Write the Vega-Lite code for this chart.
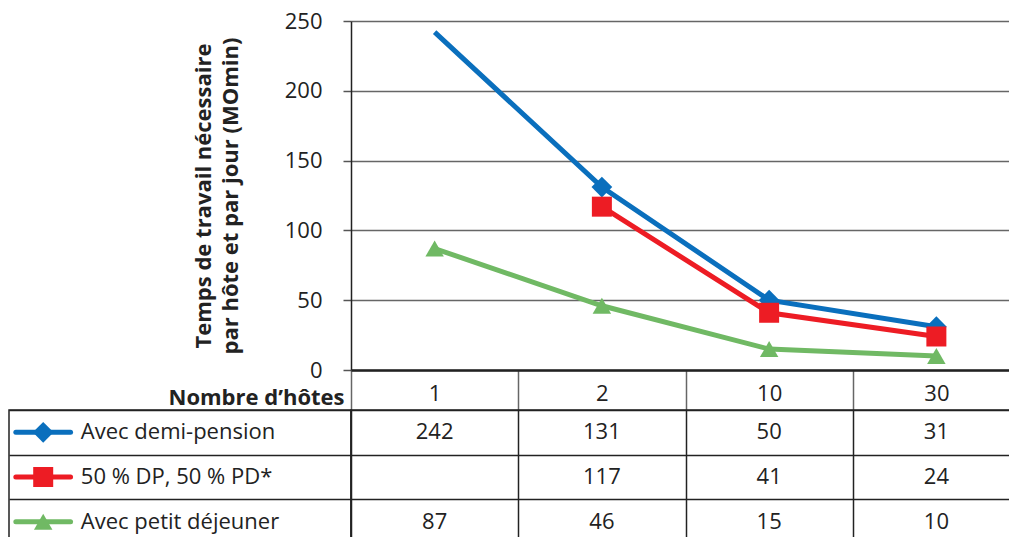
{
  "$schema": "https://vega.github.io/schema/vega-lite/v6.json",
  "padding": {"left": 8, "top": 10, "right": 0, "bottom": 0},
  "config": {
    "view": {"stroke": null},
    "font": "Open Sans",
    "axis": {"labelFont": "Open Sans", "titleFont": "Open Sans"}
  },
  "datasets": {
    "pts": [
      {"series": "Avec demi-pension", "hosts": "1", "value": 242},
      {"series": "Avec demi-pension", "hosts": "2", "value": 131},
      {"series": "Avec demi-pension", "hosts": "10", "value": 50},
      {"series": "Avec demi-pension", "hosts": "30", "value": 31},
      {"series": "50 % DP, 50 % PD*", "hosts": "2", "value": 117},
      {"series": "50 % DP, 50 % PD*", "hosts": "10", "value": 41},
      {"series": "50 % DP, 50 % PD*", "hosts": "30", "value": 24},
      {"series": "Avec petit déjeuner", "hosts": "1", "value": 87},
      {"series": "Avec petit déjeuner", "hosts": "2", "value": 46},
      {"series": "Avec petit déjeuner", "hosts": "10", "value": 15},
      {"series": "Avec petit déjeuner", "hosts": "30", "value": 10}
    ],
    "series": [
      {"series": "Avec demi-pension"},
      {"series": "50 % DP, 50 % PD*"},
      {"series": "Avec petit déjeuner"}
    ]
  },
  "columns": 2,
  "spacing": {"row": 40, "column": 0},
  "bounds": "flush",
  "concat": [
    {
      "width": 342,
      "height": 349,
      "data": {"values": []},
      "mark": {"type": "text"},
      "encoding": {}
    },
    {
      "width": 669,
      "height": 349,
      "data": {"name": "pts"},
      "encoding": {
        "x": {
          "field": "hosts",
          "type": "ordinal",
          "bandPosition": 0.5,
          "scale": {"type": "band", "domain": ["1", "2", "10", "30"], "paddingInner": 0, "paddingOuter": 0},
          "axis": {
            "title": "Nombre d’hôtes",
            "titleFontWeight": "bold",
            "titleFontSize": 22,
            "titleColor": "#222",
            "titleAlign": "right",
            "titleBaseline": "alphabetic",
            "titleX": -7,
            "titleY": 34,
            "labelAngle": 0,
            "labelFontSize": 22,
            "labelColor": "#222",
            "labelBaseline": "alphabetic",
            "labelPadding": -10,
            "tickSize": 40,
            "tickBand": "extent",
            "tickColor": "#666",
            "tickWidth": 1.5,
            "domainColor": "#222",
            "domainWidth": 2.5,
            "grid": false
          }
        },
        "y": {
          "field": "value",
          "type": "quantitative",
          "scale": {"domain": [0, 250], "nice": false},
          "axis": {
            "values": [0, 50, 100, 150, 200, 250],
            "title": ["Temps de travail nécessaire", "par hôte et par jour (MOmin)"],
            "titleFontSize": 22,
            "titleFontWeight": "bold",
            "titleColor": "#222",
            "titleLineHeight": 27,
            "titlePadding": 42,
            "labelFontSize": 22,
            "labelColor": "#222",
            "labelPadding": 21,
            "tickSize": 8,
            "tickColor": "#555",
            "tickWidth": 1.5,
            "domainColor": "#222",
            "domainWidth": 1.5,
            "grid": true,
            "gridColor": "#666",
            "gridWidth": 1.5
          }
        },
        "color": {
          "field": "series",
          "type": "nominal",
          "scale": {
            "domain": ["Avec demi-pension", "50 % DP, 50 % PD*", "Avec petit déjeuner"],
            "range": ["#0a6fbd", "#ed1c24", "#70b964"]
          },
          "legend": null
        }
      },
      "layer": [
        {"mark": {"type": "line", "strokeWidth": 5}},
        {
          "transform": [{"filter": "!(datum.series == 'Avec demi-pension' && datum.hosts == '1')"}],
          "mark": {"type": "point", "filled": true, "opacity": 1},
          "encoding": {
            "shape": {
              "field": "series",
              "type": "nominal",
              "scale": {
                "domain": ["Avec demi-pension", "50 % DP, 50 % PD*", "Avec petit déjeuner"],
                "range": ["diamond", "square", "triangle-up"]
              },
              "legend": null
            },
            "size": {
              "field": "series",
              "type": "nominal",
              "scale": {
                "type": "ordinal",
                "domain": ["Avec demi-pension", "50 % DP, 50 % PD*", "Avec petit déjeuner"],
                "range": [430, 400, 340]
              },
              "legend": null
            }
          }
        }
      ]
    },
    {
      "width": 342,
      "height": 134,
      "view": {"stroke": "#222", "strokeWidth": 1.5},
      "data": {"name": "series"},
      "encoding": {
        "y": {
          "field": "series",
          "type": "nominal",
          "bandPosition": 0.5,
          "scale": {"type": "band", "domain": ["Avec demi-pension", "50 % DP, 50 % PD*", "Avec petit déjeuner"], "paddingInner": 0, "paddingOuter": 0},
          "axis": {"labels": false, "ticks": false, "domain": false, "title": null, "grid": true, "tickBand": "extent", "gridColor": "#222", "gridWidth": 1.5}
        }
      },
      "layer": [
        {
          "mark": {"type": "rule", "strokeWidth": 5, "strokeCap": "round"},
          "encoding": {
            "x": {"datum": 2, "type": "quantitative", "scale": {"domain": [0, 100]}, "axis": null},
            "x2": {"datum": 18},
            "color": {
              "field": "series",
              "type": "nominal",
              "scale": {
                "domain": ["Avec demi-pension", "50 % DP, 50 % PD*", "Avec petit déjeuner"],
                "range": ["#0a6fbd", "#ed1c24", "#70b964"]
              },
              "legend": null
            }
          }
        },
        {
          "mark": {"type": "point", "filled": true, "opacity": 1},
          "encoding": {
            "x": {"datum": 10, "type": "quantitative"},
            "color": {"field": "series", "type": "nominal", "legend": null},
            "shape": {
              "field": "series",
              "type": "nominal",
              "scale": {
                "domain": ["Avec demi-pension", "50 % DP, 50 % PD*", "Avec petit déjeuner"],
                "range": ["diamond", "square", "triangle-up"]
              },
              "legend": null
            },
            "size": {
              "field": "series",
              "type": "nominal",
              "scale": {
                "type": "ordinal",
                "domain": ["Avec demi-pension", "50 % DP, 50 % PD*", "Avec petit déjeuner"],
                "range": [180, 280, 240]
              },
              "legend": null
            }
          }
        },
        {
          "mark": {"type": "text", "align": "left", "fontSize": 22, "color": "#222"},
          "encoding": {
            "x": {"datum": 21, "type": "quantitative"},
            "text": {"field": "series"}
          }
        }
      ]
    },
    {
      "width": 669,
      "height": 134,
      "view": {"stroke": "#222", "strokeWidth": 1.5},
      "data": {"name": "pts"},
      "mark": {"type": "text", "fontSize": 22, "color": "#222"},
      "encoding": {
        "x": {
          "field": "hosts",
          "type": "ordinal",
          "bandPosition": 0.5,
          "scale": {"type": "band", "domain": ["1", "2", "10", "30"], "paddingInner": 0, "paddingOuter": 0},
          "axis": {"labels": false, "ticks": false, "domain": false, "title": null, "grid": true, "tickBand": "extent", "gridColor": "#222", "gridWidth": 1.5}
        },
        "y": {
          "field": "series",
          "type": "nominal",
          "bandPosition": 0.5,
          "scale": {"type": "band", "domain": ["Avec demi-pension", "50 % DP, 50 % PD*", "Avec petit déjeuner"], "paddingInner": 0, "paddingOuter": 0},
          "axis": {"labels": false, "ticks": false, "domain": false, "title": null, "grid": true, "tickBand": "extent", "gridColor": "#222", "gridWidth": 1.5}
        },
        "text": {"field": "value", "type": "quantitative"}
      }
    }
  ]
}
